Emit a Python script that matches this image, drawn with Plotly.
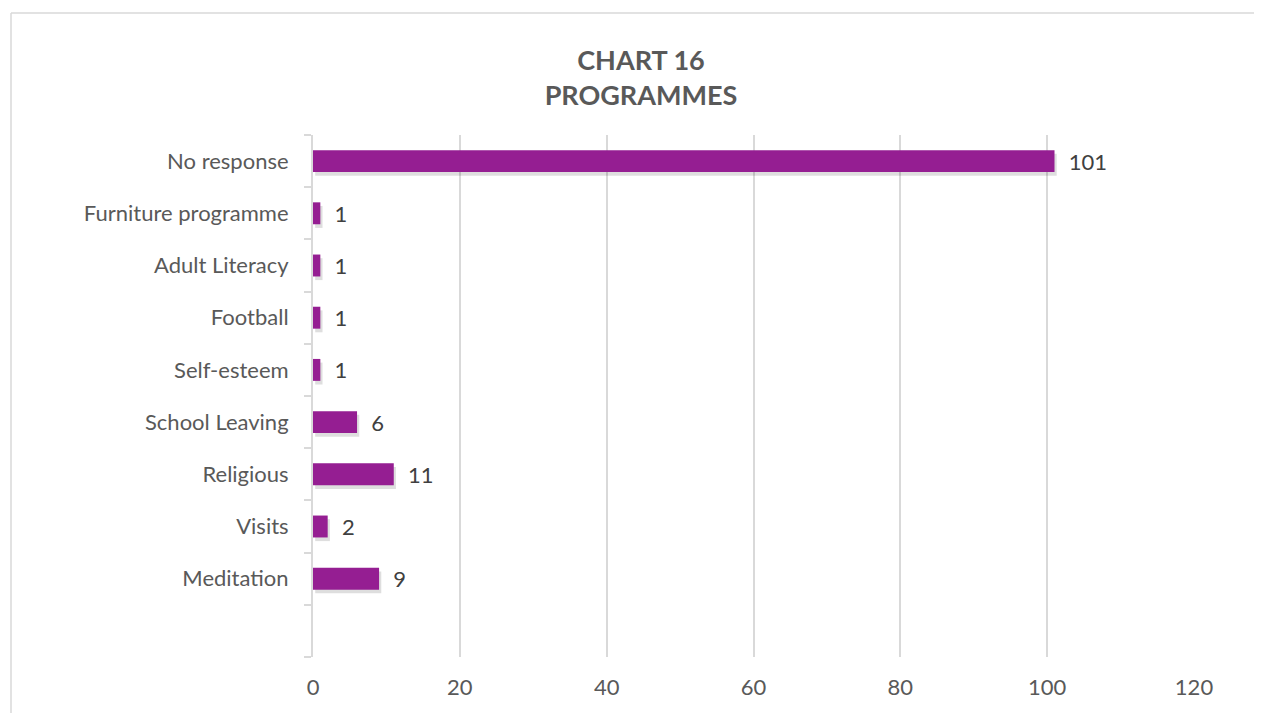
import plotly.graph_objects as go

categories = [" ", "Meditation", "Visits", "Religious", "School Leaving", "Self-esteem",
              "Football", "Adult Literacy", "Furniture programme", "No response"]
values = [None, 9, 2, 11, 6, 1, 1, 1, 1, 101]
x_ticks = [0, 20, 40, 60, 80, 100, 120]

OFF = 8  # default page body margin
PAGE_W, PAGE_H = 1262, 713
W, H = PAGE_W - OFF, PAGE_H - OFF
# plot area in page coordinates: x 313..1194, y 135..657
L = 313 - OFF
R = PAGE_W - 1194
T = 135 - OFF
B = PAGE_H - 657
pw, ph = W - L - R, H - T - B

FONT = "Lato, Open Sans, sans-serif"

fig = go.Figure()
# soft drop shadow under the bars
fig.add_trace(go.Bar(
    y=categories, x=values, orientation="h",
    width=0.42, offset=-0.28, base=0.3,
    marker=dict(color="rgba(0,0,0,0.13)", line=dict(width=0)),
    hoverinfo="skip",
))
fig.add_trace(go.Bar(
    y=categories, x=values, orientation="h",
    width=0.42, offset=-0.21,
    marker=dict(color="#951e92", line=dict(width=0)),
    text=[("" if v is None else str(v)) for v in values],
    texttemplate="  %{text}",
    textposition="outside",
    constraintext="none",
    textfont=dict(family=FONT, size=22, color="#404040"),
    outsidetextfont=dict(family=FONT, size=22, color="#404040"),
    cliponaxis=False,
    hoverinfo="x+y",
))


def px_x(x):
    return (x - OFF - L) / pw


def px_y(y):
    return (PAGE_H - B - y) / ph


fig.update_layout(
    width=W, height=H,
    margin=dict(l=L, r=R, t=T, b=B),
    paper_bgcolor="white", plot_bgcolor="white",
    showlegend=False,
    barmode="overlay",
    title=dict(
        text="<b>CHART 16<br>PROGRAMMES</b>",
        x=(641 - OFF) / W, xref="container", xanchor="center",
        y=1 - (70 - OFF) / H, yref="container", yanchor="top",
        font=dict(family=FONT, size=27, color="#595959"),
    ),
    xaxis=dict(
        range=[0, 120], tickvals=x_ticks, ticktext=[str(t) for t in x_ticks],
        showgrid=True, gridcolor="#d9d9d9", gridwidth=2,
        zeroline=False, showline=False, ticks="",
        ticklabelstandoff=15,
        tickfont=dict(family=FONT, size=22, color="#595959"),
        fixedrange=True,
    ),
    yaxis=dict(
        categoryorder="array", categoryarray=categories,
        showgrid=False, zeroline=False,
        showline=True, linecolor="#d9d9d9", linewidth=2,
        ticks="outside", tickson="boundaries", ticklen=7, tickcolor="#d9d9d9",
        tickwidth=2,
        ticklabelstandoff=18,
        tickfont=dict(family=FONT, size=22, color="#595959"),
        fixedrange=True,
    ),
    shapes=[
        dict(type="line", xref="paper", yref="paper",
             x0=px_x(11), x1=px_x(11), y0=px_y(PAGE_H + 5), y1=px_y(13),
             line=dict(color="#d9d9d9", width=1.5)),
        dict(type="line", xref="paper", yref="paper",
             x0=px_x(11), x1=px_x(PAGE_W + 5), y0=px_y(13), y1=px_y(13),
             line=dict(color="#d9d9d9", width=1.5)),
    ],
)

fig.write_html("out.html")
